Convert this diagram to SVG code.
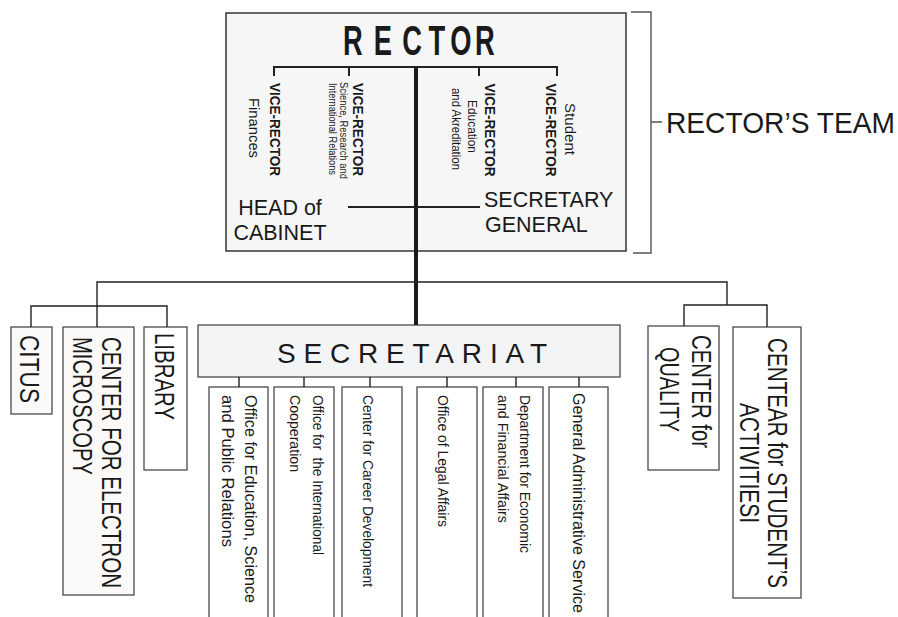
<svg xmlns="http://www.w3.org/2000/svg" width="898" height="617" viewBox="0 0 898 617">
<style>
text{font-family:"Liberation Sans",Arial,Helvetica,sans-serif;fill:#1a1a1a}
.box{stroke:#4a4a4a;stroke-width:1.3}
.con{fill:none;stroke:#222;stroke-width:1.4}
.vr{font-weight:bold;font-size:14px}
.sub{font-size:14px}
.big{font-size:28px}
.mid{text-anchor:middle}
</style>
<rect width="898" height="617" fill="#fff"/>
<g id="rector">
  <rect class="box" x="226" y="13" width="400" height="238" fill="#f6f6f6" style="stroke:#333;stroke-width:1.5"/>
  <text transform="translate(0,55) scale(0.65,1)" font-size="42" font-weight="bold" text-anchor="middle" x="543 589 634 672 709 746" y="0">RECTOR</text>
</g>
<g id="vr-finances">
  <text class="vr mid" transform="translate(270,129.5) rotate(90)" textLength="93" lengthAdjust="spacingAndGlyphs">VICE-RECTOR</text>
  <text class="mid" font-size="14" transform="translate(249,128) rotate(90)" textLength="60" lengthAdjust="spacingAndGlyphs">Finances</text>
</g>
<g id="vr-science">
  <text class="vr mid" transform="translate(353,129.5) rotate(90)" textLength="93" lengthAdjust="spacingAndGlyphs">VICE-RECTOR</text>
  <text class="mid" font-size="10" transform="translate(339.5,130.5) rotate(90)" textLength="97" lengthAdjust="spacingAndGlyphs">Science, Research and</text>
  <text class="mid" font-size="10" transform="translate(328.5,129) rotate(90)" textLength="92" lengthAdjust="spacingAndGlyphs">International Relations</text>
</g>
<g id="vr-education">
  <text class="vr mid" transform="translate(485,130) rotate(90)" textLength="93" lengthAdjust="spacingAndGlyphs">VICE-RECTOR</text>
  <text class="mid" font-size="13" transform="translate(468,126.5) rotate(90)" textLength="53" lengthAdjust="spacingAndGlyphs">Education</text>
  <text class="mid" font-size="13" transform="translate(452,129) rotate(90)" textLength="82" lengthAdjust="spacingAndGlyphs">and Akreditation</text>
</g>
<g id="vr-student">
  <text class="mid" font-size="15" transform="translate(565,129) rotate(90)" textLength="52" lengthAdjust="spacingAndGlyphs">Student</text>
  <text class="vr mid" transform="translate(546,130) rotate(90)" textLength="93" lengthAdjust="spacingAndGlyphs">VICE-RECTOR</text>
</g>
<g id="head-cabinet">
  <text class="mid" font-size="21.5" x="280" y="215">HEAD of</text>
  <text class="mid" font-size="21.5" x="280" y="240">CABINET</text>
</g>
<g id="secretary-general">
  <text font-size="21.5" x="484" y="207">SECRETARY</text>
  <text font-size="21.5" x="485" y="232">GENERAL</text>
</g>
<g id="rectors-team">
  <text font-size="30" x="666" y="133" textLength="229" lengthAdjust="spacingAndGlyphs">RECTOR’S TEAM</text>
</g>
<g id="citus">
  <rect class="box" x="11" y="327" width="41" height="87" fill="#fbfaf8"/>
  <text class="big mid" transform="translate(20,369) rotate(90)" textLength="68" lengthAdjust="spacingAndGlyphs">CITUS</text>
</g>
<g id="electron">
  <rect class="box" x="63" y="327" width="71" height="268" fill="#fbfaf8"/>
  <text class="big" transform="translate(102,337) rotate(90)" textLength="251" lengthAdjust="spacingAndGlyphs">CENTER FOR ELECTRON</text>
  <text class="big" transform="translate(73,337) rotate(90)" textLength="138" lengthAdjust="spacingAndGlyphs">MICROSCOPY</text>
</g>
<g id="library">
  <rect class="box" x="144" y="327" width="43" height="143" fill="#fff"/>
  <text class="big" transform="translate(155,333) rotate(90)" textLength="87" lengthAdjust="spacingAndGlyphs">LIBRARY</text>
</g>
<g id="secretariat">
  <rect class="box" x="198" y="325" width="422" height="52" fill="#f3f4f6"/>
  <text class="mid" font-size="28" x="412" y="363" textLength="270" lengthAdjust="spacing">SECRETARIAT</text>
</g>
<g id="office-education">
  <rect class="box" x="209" y="387" width="59" height="240" fill="#fff"/>
  <text font-size="16" transform="translate(245,395) rotate(90)" textLength="208" lengthAdjust="spacingAndGlyphs">Office for Education, Science</text>
  <text font-size="16" transform="translate(222,395) rotate(90)" textLength="152" lengthAdjust="spacingAndGlyphs">and Public Relations</text>
</g>
<g id="office-international">
  <rect class="box" x="274" y="387" width="60" height="240" fill="#fff"/>
  <text class="sub" xml:space="preserve" transform="translate(313,395) rotate(90)" textLength="160" lengthAdjust="spacingAndGlyphs">Office for  the International</text>
  <text class="sub" transform="translate(290,395) rotate(90)" textLength="77" lengthAdjust="spacingAndGlyphs">Cooperation</text>
</g>
<g id="career">
  <rect class="box" x="342" y="387" width="60" height="240" fill="#fff"/>
  <text class="sub" transform="translate(363,395) rotate(90)" textLength="192" lengthAdjust="spacingAndGlyphs">Center for Career Development</text>
</g>
<g id="legal">
  <rect class="box" x="417" y="387" width="60" height="240" fill="#fff"/>
  <text class="sub" transform="translate(438,395) rotate(90)" textLength="132" lengthAdjust="spacingAndGlyphs">Office of Legal Affairs</text>
</g>
<g id="economic">
  <rect class="box" x="483" y="387" width="60" height="240" fill="#fff"/>
  <text class="sub" transform="translate(520,395) rotate(90)" textLength="158" lengthAdjust="spacingAndGlyphs">Department for Economic</text>
  <text class="sub" transform="translate(498,395) rotate(90)" textLength="128" lengthAdjust="spacingAndGlyphs">and Financial Affairs</text>
</g>
<g id="general-admin">
  <rect class="box" x="549" y="387" width="59" height="240" fill="#fff"/>
  <text font-size="16" transform="translate(573,393) rotate(90)" textLength="220" lengthAdjust="spacingAndGlyphs">General Administrative Service</text>
</g>
<g id="quality">
  <rect class="box" x="648" y="326" width="71" height="144" fill="#fff"/>
  <text class="big mid" transform="translate(692,391.5) rotate(90)" textLength="113" lengthAdjust="spacingAndGlyphs">CENTER for</text>
  <text class="big mid" transform="translate(660,389.5) rotate(90)" textLength="85" lengthAdjust="spacingAndGlyphs">QUALITY</text>
</g>
<g id="student-activities">
  <rect class="box" x="733" y="327" width="68" height="271" fill="#fff"/>
  <text class="big mid" transform="translate(768,463) rotate(90)" textLength="250" lengthAdjust="spacingAndGlyphs">CENTEAR for STUDENT’S</text>
  <text class="big mid" transform="translate(740,463) rotate(90)" textLength="120" lengthAdjust="spacingAndGlyphs">ACTIVITIESI</text>
</g>
<g id="connectors">
  <path class="con" d="M274,76 V67 H557 V76 M349,67 V76 M479,67 V76" style="stroke-width:2"/>
  <path class="con" d="M348,207 H480" style="stroke-width:2"/>
  <path class="con" d="M416,67 V325" style="stroke:#1a1a1a;stroke-width:4"/>
  <path class="con" d="M631,12 H651 V253 H633 M651,122 H662" style="stroke:#555;stroke-width:1.4"/>
  <path class="con" d="M97,327 V282 H727 V305"/>
  <path class="con" d="M31,327 V306 H167 V327"/>
  <path class="con" d="M684,326 V305 H767 V327"/>
  <path class="con" d="M239,377 V387 M304,377 V387 M370,377 V387 M447,377 V387 M516,377 V387 M579,377 V387"/>
</g>
</svg>
